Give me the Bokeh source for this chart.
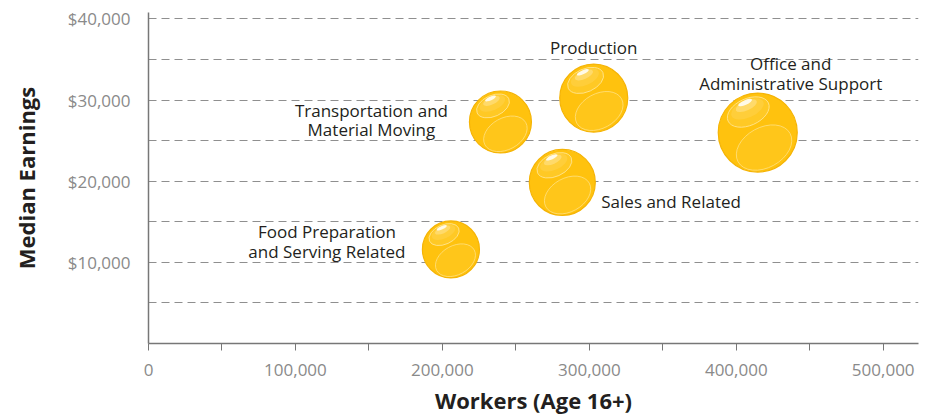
import numpy as np
from bokeh.plotting import figure
from bokeh.models import FixedTicker, NumeralTickFormatter, ColumnDataSource
from bokeh.core.properties import value
from bokeh.embed import file_html
from bokeh.resources import INLINE

# ---- data ----
categories = ["Food Preparation\nand Serving Related",
              "Transportation and\nMaterial Moving",
              "Production",
              "Sales and Related",
              "Office and\nAdministrative Support"]
workers = [205800, 239500, 303000, 281600, 414600]
median_earnings = [11600, 27300, 30250, 19850, 26000]
bubble_size = [57, 62, 68, 66, 79]   # bubble diameter (px)

x_ticks = list(range(0, 500001, 50000))
x_tick_labels = {t: ("{:,}".format(t) if t % 100000 == 0 else "") for t in x_ticks}
y_ticks = [10000, 20000, 30000, 40000]
grid_ticks = list(range(5000, 40001, 5000))

# ---- layout ----
X_MAX, Y_MAX = 524000, 40800
FW, FH = 770, 331
px_x = X_MAX / FW
px_y = Y_MAX / FH

FONT = "Open Sans"

p = figure(frame_width=FW, frame_height=FH, x_range=(0, X_MAX), y_range=(0, Y_MAX),
           output_backend="svg", toolbar_location=None,
           min_border_left=148, min_border_right=18, min_border_top=12, min_border_bottom=73)
p.outline_line_color = None
p.background_fill_color = "white"
p.border_fill_color = "white"

# grid
p.xgrid.visible = False
p.ygrid.ticker = FixedTicker(ticks=grid_ticks)
p.ygrid.grid_line_color = "#8f8f8f"
p.ygrid.grid_line_dash = "8 5"
p.ygrid.grid_line_width = 1

# axes
p.xaxis.ticker = FixedTicker(ticks=x_ticks)
p.xaxis.formatter = NumeralTickFormatter(format="0,0")
p.xaxis.major_label_overrides = x_tick_labels
p.xaxis.major_tick_out = 7
p.xaxis.major_tick_in = 0
p.xaxis.minor_tick_line_color = None
p.xaxis.major_tick_line_color = "#777777"
p.xaxis.major_label_standoff = 13
p.xaxis.axis_label = "Workers (Age 16+)"
p.xaxis.axis_label_standoff = 6

p.yaxis.ticker = FixedTicker(ticks=y_ticks)
p.yaxis.formatter = NumeralTickFormatter(format="$0,0")
p.yaxis.major_tick_out = 0
p.yaxis.major_tick_in = 0
p.yaxis.minor_tick_line_color = None
p.yaxis.major_label_standoff = 18
p.yaxis.axis_label = "Median Earnings"
p.yaxis.axis_label_standoff = 24

for ax in (p.xaxis[0], p.yaxis[0]):
    ax.axis_line_color = "#777777"
    ax.axis_line_width = 1.5
    ax.major_label_text_font = FONT
    ax.major_label_text_font_size = "17px"
    ax.major_label_text_color = "#8a8a8a"
    ax.axis_label_text_font = FONT
    ax.axis_label_text_font_size = "22px"
    ax.axis_label_text_font_style = "bold"
    ax.axis_label_text_color = "#231f20"

# ---- bubbles ----
xs = np.array(workers, dtype=float)
ys = np.array(median_earnings, dtype=float)
r = np.array(bubble_size, dtype=float) / 2.0

p.scatter(xs, ys, size=2 * r, fill_color="#FFC20E", line_color="#F5B406", line_width=1.2)

def ell(dx, dy, w, h, angle, **kw):
    p.ellipse(x=xs + dx * r * px_x, y=ys - dy * r * px_y,
              width=w * r, height=h * r, width_units="screen", height_units="screen",
              angle=angle, **kw)

# lower highlight
ell(0.16, 0.38, 1.5, 1.02, 0.5, fill_color="#FFC71E", fill_alpha=0.8,
    line_color="#FFE590", line_width=0.8, line_alpha=0.9)
# upper highlight (layers to fake a gradient)
ell(-0.24, -0.52, 1.12, 0.68, 0.42, fill_color="#FFC925", fill_alpha=1.0,
    line_color="#FFE8A0", line_width=0.8)
ell(-0.26, -0.6, 0.88, 0.44, 0.42, fill_color="#FFD24C", fill_alpha=0.55, line_color=None)
ell(-0.29, -0.68, 0.58, 0.24, 0.42, fill_color="#FFE391", fill_alpha=0.55, line_color=None)
# glare
ell(-0.32, -0.76, 0.38, 0.12, 0.42, fill_color="white", fill_alpha=0.85, line_color=None)

# ---- labels ----
label_dx = [-124, -129, 0, 39, 33]
label_dy = [-8, -2, -51, 19, -59]
label_align = ["center", "center", "center", "left", "center"]
src = ColumnDataSource(dict(x=workers, y=median_earnings, t=categories,
                            dx=label_dx, dy=label_dy, al=label_align))
p.text(x="x", y="y", text="t", x_offset="dx", y_offset="dy", text_align="al",
       text_baseline="middle", source=src, text_font=value(FONT),
       text_font_size="17px", text_color="#231f20", text_line_height=0.86)

open("out.html", "w").write(file_html(p, INLINE))
